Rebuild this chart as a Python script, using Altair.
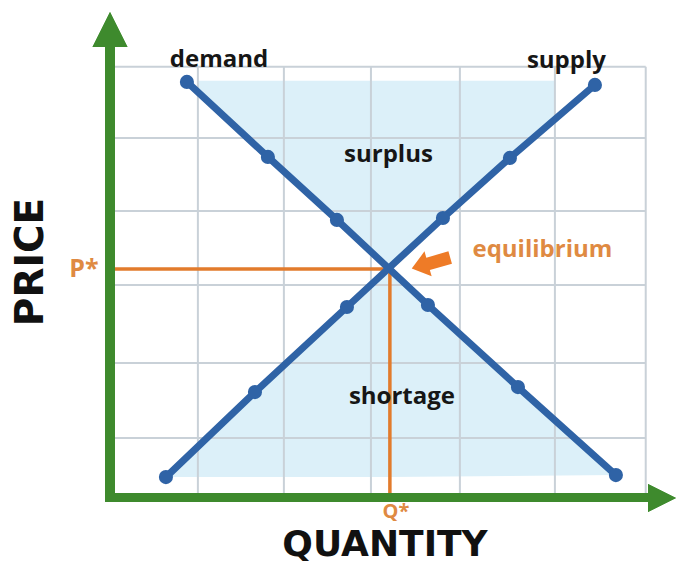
import altair as alt
import pandas as pd

# ---- data (quantity / price units, grid cell ~ 1) ----
grid_q = [0.0, 0.985, 1.948, 2.923, 3.919, 4.983, 6.0]
grid_p = [0.829, 1.875, 2.962, 3.993, 5.010, 6.0]

demand_q = [0.862, 1.769, 2.542, 3.561, 4.569, 5.666]
demand_p = [5.791, 4.746, 3.868, 2.683, 1.540, 0.314]
supply_q = [0.627, 1.624, 2.654, 3.729, 4.479, 5.431]
supply_p = [0.286, 1.470, 2.655, 3.895, 4.732, 5.749]

eq_q = 3.135   # Q*
eq_p = 3.185   # P*

surplus_q = [0.985, 3.135, 4.983]
surplus_top = [5.805, 5.805, 5.805]
surplus_low = [5.649, 3.185, 5.270]

shortage_q = [0.627, 3.135, 5.666]
shortage_low = [0.286, 0.286, 0.314]
shortage_top = [0.286, 3.185, 0.314]

labels = ["demand", "supply", "surplus", "shortage"]
label_q = [1.221, 5.112, 3.119, 3.270]
label_p = [6.0, 5.982, 4.680, 1.310]

eq_label = "equilibrium"
eq_label_q = 4.843
eq_label_p = 3.356
arrow_q = 3.595
arrow_p = 3.268

# ---- styles ----
BLUE = "#2f63a6"
FILL = "#dcf0f9"
GRID = "#c9d1d8"
ORANGE = "#e27b2c"
ORANGE_TXT = "#df8a42"
GREEN = "#3e8a2d"

XS = alt.Scale(domain=[-0.1, 6.339], nice=False, zero=False)
YS = alt.Scale(domain=[-0.2, 6.82], nice=False, zero=False)


def X(f):
    return alt.X(f, type="quantitative", scale=XS, axis=None)


def Y(f):
    return alt.Y(f, type="quantitative", scale=YS, axis=None)


surplus_df = pd.DataFrame({"q": surplus_q, "top": surplus_top, "low": surplus_low})
shortage_df = pd.DataFrame({"q": shortage_q, "top": shortage_top, "low": shortage_low})

surplus = alt.Chart(surplus_df).mark_area(color=FILL, opacity=1).encode(
    x=X("q"), y=Y("top"), y2="low")
shortage = alt.Chart(shortage_df).mark_area(color=FILL, opacity=1).encode(
    x=X("q"), y=Y("top"), y2="low")

vgrid_df = pd.DataFrame({"q": grid_q, "lo": [0.0] * len(grid_q), "hi": [grid_p[-1]] * len(grid_q)})
hgrid_df = pd.DataFrame({"p": grid_p, "lo": [grid_q[0]] * len(grid_p), "hi": [grid_q[-1]] * len(grid_p)})

vgrid = alt.Chart(vgrid_df).mark_rule(color=GRID, strokeWidth=2).encode(
    x=X("q"), y=Y("lo"), y2="hi")
hgrid = alt.Chart(hgrid_df).mark_rule(color=GRID, strokeWidth=2).encode(
    y=Y("p"), x=X("lo"), x2="hi")

pline_df = pd.DataFrame({"p": [eq_p], "lo": [0.0], "hi": [eq_q]})
qline_df = pd.DataFrame({"q": [eq_q], "lo": [0.0], "hi": [eq_p]})
pline = alt.Chart(pline_df).mark_rule(color=ORANGE, strokeWidth=3.5).encode(
    y=Y("p"), x=X("lo"), x2="hi")
qline = alt.Chart(qline_df).mark_rule(color=ORANGE, strokeWidth=3.5).encode(
    x=X("q"), y=Y("lo"), y2="hi")

curves = pd.DataFrame({
    "curve": ["demand"] * len(demand_q) + ["supply"] * len(supply_q),
    "i": list(range(len(demand_q))) + list(range(len(supply_q))),
    "q": demand_q + supply_q,
    "p": demand_p + supply_p,
})
lines = alt.Chart(curves).mark_line(color=BLUE, strokeWidth=7, strokeCap="round").encode(
    x=X("q"), y=Y("p"), detail="curve:N", order="i:Q")
dots = alt.Chart(curves).mark_circle(color=BLUE, size=200, opacity=1).encode(
    x=X("q"), y=Y("p"))

lab_df = pd.DataFrame({"t": labels, "q": label_q, "p": label_p})
lab = alt.Chart(lab_df).mark_text(
    font="Open Sans", fontWeight="bold", fontSize=24, color="#161616",
    align="center", baseline="alphabetic").encode(x=X("q"), y=Y("p"), text="t:N")

eq_df = pd.DataFrame({"t": [eq_label], "q": [eq_label_q], "p": [eq_label_p]})
eq_text = alt.Chart(eq_df).mark_text(
    font="Open Sans", fontWeight="bold", fontSize=24, color=ORANGE_TXT,
    align="center", baseline="alphabetic").encode(x=X("q"), y=Y("p"), text="t:N")

arrow_df = pd.DataFrame({"q": [arrow_q], "p": [arrow_p]})
arrow = alt.Chart(arrow_df).mark_point(
    shape="M-1,0L-0.15,-0.65L-0.15,-0.32L1,-0.32L1,0.32L-0.15,0.32L-0.15,0.65Z",
    size=1600, filled=True, color="#ee7b27", opacity=1, angle=344, strokeWidth=0
).encode(x=X("q"), y=Y("p"))

pstar_df = pd.DataFrame({"t": ["P*"], "p": [eq_p]})
pstar = alt.Chart(pstar_df).mark_text(
    font="Open Sans", fontWeight=700, fontSize=25, color=ORANGE_TXT,
    align="center", baseline="middle").encode(x=alt.value(-17), y=Y("p"), text="t:N")

qstar_df = pd.DataFrame({"t": ["Q*"], "q": [eq_q]})
qstar = alt.Chart(qstar_df).mark_text(
    font="Open Sans", fontWeight=700, fontSize=20, color=ORANGE_TXT,
    align="center", baseline="middle", dx=6).encode(x=X("q"), y=alt.value(504), text="t:N")

title_df = pd.DataFrame({"t": ["PRICE", "QUANTITY"]})
price_t = alt.Chart(title_df).transform_filter(alt.datum.t == "PRICE").mark_text(
    font="DejaVu Sans", fontWeight="bold", fontSize=39, color="#111111",
    align="center", baseline="middle", angle=270).encode(
    x=alt.value(-70), y=alt.value(254), text="t:N")
qty_t = alt.Chart(title_df).transform_filter(alt.datum.t == "QUANTITY").mark_text(
    font="DejaVu Sans", fontWeight="bold", fontSize=36, color="#111111",
    align="center", baseline="middle").encode(
    x=alt.value(284), y=alt.value(537), text="t:N")

# green axes with arrow heads (decoration, pixel positions)
yaxis = alt.Chart(title_df).mark_rule(color=GREEN, strokeWidth=10).encode(
    x=alt.value(9), y=alt.value(34), y2=alt.value(494))
xaxis = alt.Chart(title_df).mark_rule(color=GREEN, strokeWidth=9).encode(
    y=alt.value(489.5), x=alt.value(4), x2=alt.value(552))
yhead = alt.Chart(title_df).mark_point(
    shape="M0,-1L1,1L-1,1Z", size=1225, filled=True, color=GREEN, opacity=1, strokeWidth=0
).encode(x=alt.value(9), y=alt.value(21.5))
xhead = alt.Chart(title_df).mark_point(
    shape="M1,0L-1,1L-1,-1Z", size=784, filled=True, color=GREEN, opacity=1, strokeWidth=0
).encode(x=alt.value(561), y=alt.value(490))

chart = alt.layer(
    surplus, shortage, vgrid, hgrid, pline, qline, lines, dots,
    lab, eq_text, arrow, pstar, qstar, price_t, qty_t,
    yaxis, xaxis, yhead, xhead,
).properties(
    width=575, height=504,
    autosize=alt.AutoSizeParams(type="none"),
    padding={"left": 93, "top": 0, "right": 0, "bottom": 52},
    background="white",
).configure_view(stroke=None)

chart.save("out.html", embed_options={"renderer": "svg", "actions": False})
